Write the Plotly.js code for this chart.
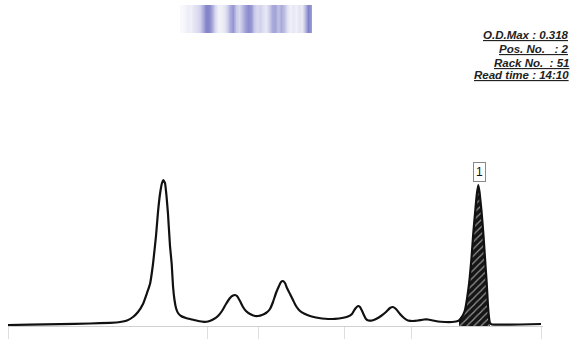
<!DOCTYPE html>
<html>
<head>
<meta charset="utf-8">
<script src="https://cdn.plot.ly/plotly-3.0.1.min.js"></script>
<style>html,body{margin:0;padding:0;background:#fff;}#chart{width:573px;height:339px;}</style>
</head>
<body>
<div id="chart"></div>
<script>
// Densitogram trace: migration position and optical density (relative units)
const curveX = [8,30,60,90,110,120,127,133,138,143,147,150,153,156,158,160,162,163.3,165,166.5,168,170,171.7,173,174.5,176,178,181,186,192,198,204,208,213,218,222,226,230,233,235,237,240,243,246,250,255,258.3,262,266,270,273,276,279,281,283,285,287,290,293,296,300,305,310,316,322,328,335,342,348,352,355,358,360,363,366,368.5,372,376,381,386,390,393,396,400,404,408,413,418,424,428,433,438,445,452,456,459,461,463,465,467,469.3,471.5,473.3,475.5,477,478.3,479.5,481.5,483.3,485,486.7,487.7,488.3,489.2,490,492,500,520,541];
const curveY = [1,1.3,1.8,2.5,3.2,4,5.5,9,14,22,33,42,62,90,114,132,143,146,143,130,112,80,62,40,26,18,13,10,8,6.5,5,4.2,4.5,6.5,10,15,22,28,30.5,31,30,25,19,15,12,10,10,11,13,17,24,33,40,44,45,43,38,32,26,20,15,12,10,8.5,7.5,7,7.2,8,9.5,12,17,20,19,13,7,5.5,5.5,7,10,14,18,19,17,12,8,5.5,5,5.5,6.5,6.5,5.5,4.5,4,4,4.5,5.5,8,11,16,27,44,68,93,118,133,141,134,115,93,68,43,25,16,7,3,1.5,1.3,1.5,2];
// Integrated peak window
const peakWindow = [459, 490];
const peakLabel = "1";
const peakLabelPos = [479, 154];
// Lane image (band strip): cell centres and intensity
const bandX = [181.5,184.5,187.5,190.5,193.5,196.5,199.5,202.5,205.5,208.5,211.5,214.5,217.5,220.5,223.5,226.5,229.5,232.5,235.5,238.5,241.5,244.5,247.5,250.5,253.5,256.5,259.5,262.5,265.5,268.5,271.5,274.5,277.5,280.5,283.5,286.5,289.5,292.5,295.5,298.5,301.5,304.5,307.5,310.5];
const bandZ = [0.04,0.08,0.12,0.1,0.18,0.22,0.32,0.55,0.8,0.78,0.55,0.25,0.1,0.1,0.15,0.3,0.55,0.68,0.35,0.25,0.42,0.62,0.75,0.68,0.35,0.25,0.3,0.2,0.15,0.32,0.55,0.6,0.4,0.55,0.42,0.2,0.1,0.15,0.1,0.18,0.15,0.45,0.82,0.65];
// Fraction boundaries
const fractionTicks = [8,207,258,344,411,541];
// Header info
const infoLines = ["O.D.Max : 0.318", "Pos. No.\u00a0\u00a0\u00a0: 2", "Rack No.\u00a0\u00a0: 51", "Read time : 14:10"];

const peakX = [], peakY = [];
curveX.forEach((x, i) => { if (x >= peakWindow[0] && x <= peakWindow[1]) { peakX.push(x); peakY.push(curveY[i]); } });

const traces = [
  {
    type: 'scatter', mode: 'lines', x: peakX, y: peakY, fill: 'tozeroy',
    line: {width: 0, color: '#111', shape: 'spline', smoothing: 0.4}, fillcolor: '#111',
    fillpattern: {shape: '/', bgcolor: '#151515', fgcolor: '#9a9a9a', size: 5, solidity: 0.22},
    hoverinfo: 'skip'
  },
  {
    type: 'scatter', mode: 'lines', x: curveX, y: curveY,
    line: {color: '#111', width: 2.2, shape: 'spline', smoothing: 0.4}
  },
  {
    type: 'heatmap', x: bandX, y: [0, 1], z: [bandZ, bandZ], xaxis: 'x', yaxis: 'y2',
    colorscale: [[0, '#ffffff'], [1, '#6565bd']], zmin: 0, zmax: 1, showscale: false, zsmooth: 'best'
  }
];

const fontTxt = {family: 'Liberation Sans, Arial, sans-serif', size: 11.5, color: '#222'};
const infoY = [35, 49, 62.5, 75];
const annotations = infoLines.map((t, i) => ({
  text: '<b><i><u>' + t + '</u></i></b>', xref: 'paper', yref: 'paper',
  x: (571 - 8) / 535, y: (326 - infoY[i]) / 326, xanchor: 'right', yanchor: 'middle',
  showarrow: false, font: fontTxt
}));
annotations.push({
  text: peakLabel, x: peakLabelPos[0], y: peakLabelPos[1], xref: 'x', yref: 'y',
  showarrow: false, bordercolor: '#888', borderwidth: 1, borderpad: 2, bgcolor: '#fff',
  font: {family: 'Liberation Sans, Arial, sans-serif', size: 12, color: '#111'}
});

const layout = {
  width: 573, height: 339,
  margin: {l: 8, r: 30, t: 0, b: 13},
  paper_bgcolor: '#fff', plot_bgcolor: '#fff',
  showlegend: false,
  xaxis: {range: [8, 543], showgrid: false, zeroline: false, showline: true, linecolor: '#d0d0d0', linewidth: 1,
          ticks: 'outside', ticklen: 13, tickcolor: '#dedede', tickwidth: 1, tickvals: fractionTicks, showticklabels: false, fixedrange: true},
  yaxis: {range: [0, 326], visible: false, fixedrange: true},
  yaxis2: {domain: [1 - 33 / 326, 1 - 5 / 326], anchor: 'x', visible: false, range: [-0.5, 1.5]},
  annotations: annotations
};

Plotly.newPlot('chart', traces, layout, {staticPlot: true, displayModeBar: false});
</script>
</body>
</html>
